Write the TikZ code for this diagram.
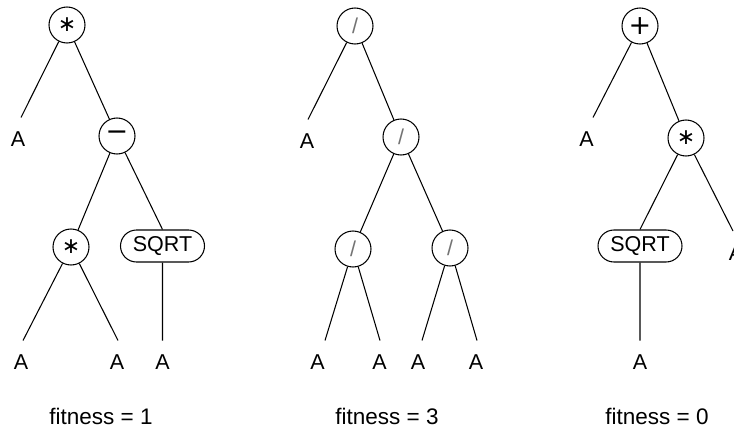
\documentclass[tikz,border=0pt]{standalone}
\usepackage{fontspec}
\setmainfont{Liberation Sans}
\newfontfamily\opfont{DejaVu Sans}
\usetikzlibrary{shapes.misc}
\tikzset{
  op/.style={draw, circle, line width=1.05pt, minimum size=36pt, inner sep=0pt, font=\opfont\fontsize{22}{24}\selectfont},
  opbig/.style={op, font=\opfont\fontsize{27}{28}\selectfont},
  slashop/.style={op, font=\fontsize{21.5}{24}\selectfont, text=black!55},
  fnbox/.style={draw, rounded rectangle, line width=1.05pt, minimum width=84pt, minimum height=32pt, inner sep=0pt, font=\fontsize{21.5}{24}\selectfont},
  leaf/.style={anchor=base, inner xsep=0pt, inner ysep=14pt, font=\fontsize{21.5}{24}\selectfont},
  captext/.style={anchor=base, inner sep=0pt, font=\fontsize{22.5}{26}\selectfont},
  conn/.style={line width=1.05pt}
}
\begin{document}
\begin{tikzpicture}[x=1pt, y=-1pt]
\useasboundingbox (0,0) rectangle (734,428);
\clip (0,0) rectangle (734,428);
% ---------- tree 1 ----------
\node[op] (r1) at (67,25) {∗};
\node[opbig] (m1) at (117,136) {−};
\node[op] (s1) at (71,247) {∗};
\node[fnbox] (q1) at (162.5,246) {SQRT};
\node[leaf] (a11) at (18,146.5) {A};
\node[leaf] (a12) at (21,369.5) {A};
\node[leaf] (a13) at (117,369.5) {A};
\node[leaf] (a14) at (162.5,369.5) {A};
\node[captext] (f1) at (101,424) {fitness = 1};
\draw[conn] (r1) -- ([xshift=3pt]a11.north);
\draw[conn] (r1) -- (m1);
\draw[conn] (m1) -- (s1);
\draw[conn] (m1) -- (q1.north);
\draw[conn] (s1) -- ([xshift=2pt]a12.north);
\draw[conn] (s1) -- ([xshift=1pt]a13.north);
\draw[conn] (q1) -- (a14.north);
% ---------- tree 2 ----------
\node[slashop] (r2) at (355,26) {/};
\node[slashop] (d2) at (401,137) {/};
\node[slashop] (e21) at (353,249) {/};
\node[slashop] (e22) at (450,248) {/};
\node[leaf] (a21) at (307,148.5) {A};
\node[leaf] (a22) at (317.5,369.5) {A};
\node[leaf] (a23) at (379.5,369.5) {A};
\node[leaf] (a24) at (418,369.5) {A};
\node[leaf] (a25) at (476,369.5) {A};
\node[captext] (f2) at (387,424) {fitness = 3};
\draw[conn] (r2) -- ([xshift=1pt]a21.north);
\draw[conn] (r2) -- (d2);
\draw[conn] (d2) -- (e21);
\draw[conn] (d2) -- (e22);
\draw[conn] (e21) -- ([xshift=7.5pt]a22.north);
\draw[conn] (e21) -- ([xshift=0.5pt]a23.north);
\draw[conn] (e22) -- ([xshift=4pt]a24.north);
\draw[conn] (e22) -- ([xshift=1pt]a25.north);
% ---------- tree 3 ----------
\node[opbig] (r3) at (640,26) {+};
\node[op] (t3) at (686,138) {∗};
\node[fnbox] (q3) at (640,246) {SQRT};
\node[leaf] (a31) at (586.5,146.5) {A};
\node[leaf] (a32) at (736,260) {A};
\node[leaf] (a33) at (640,369.5) {A};
\node[captext] (f3) at (657,424) {fitness = 0};
\draw[conn] (r3) -- ([xshift=6.5pt]a31.north);
\draw[conn] (r3) -- (t3);
\draw[conn] (t3) -- (q3.north);
\draw[conn] (t3) -- ([xshift=-3pt]a32.north);
\draw[conn] (q3) -- (a33.north);
\end{tikzpicture}
\end{document}
